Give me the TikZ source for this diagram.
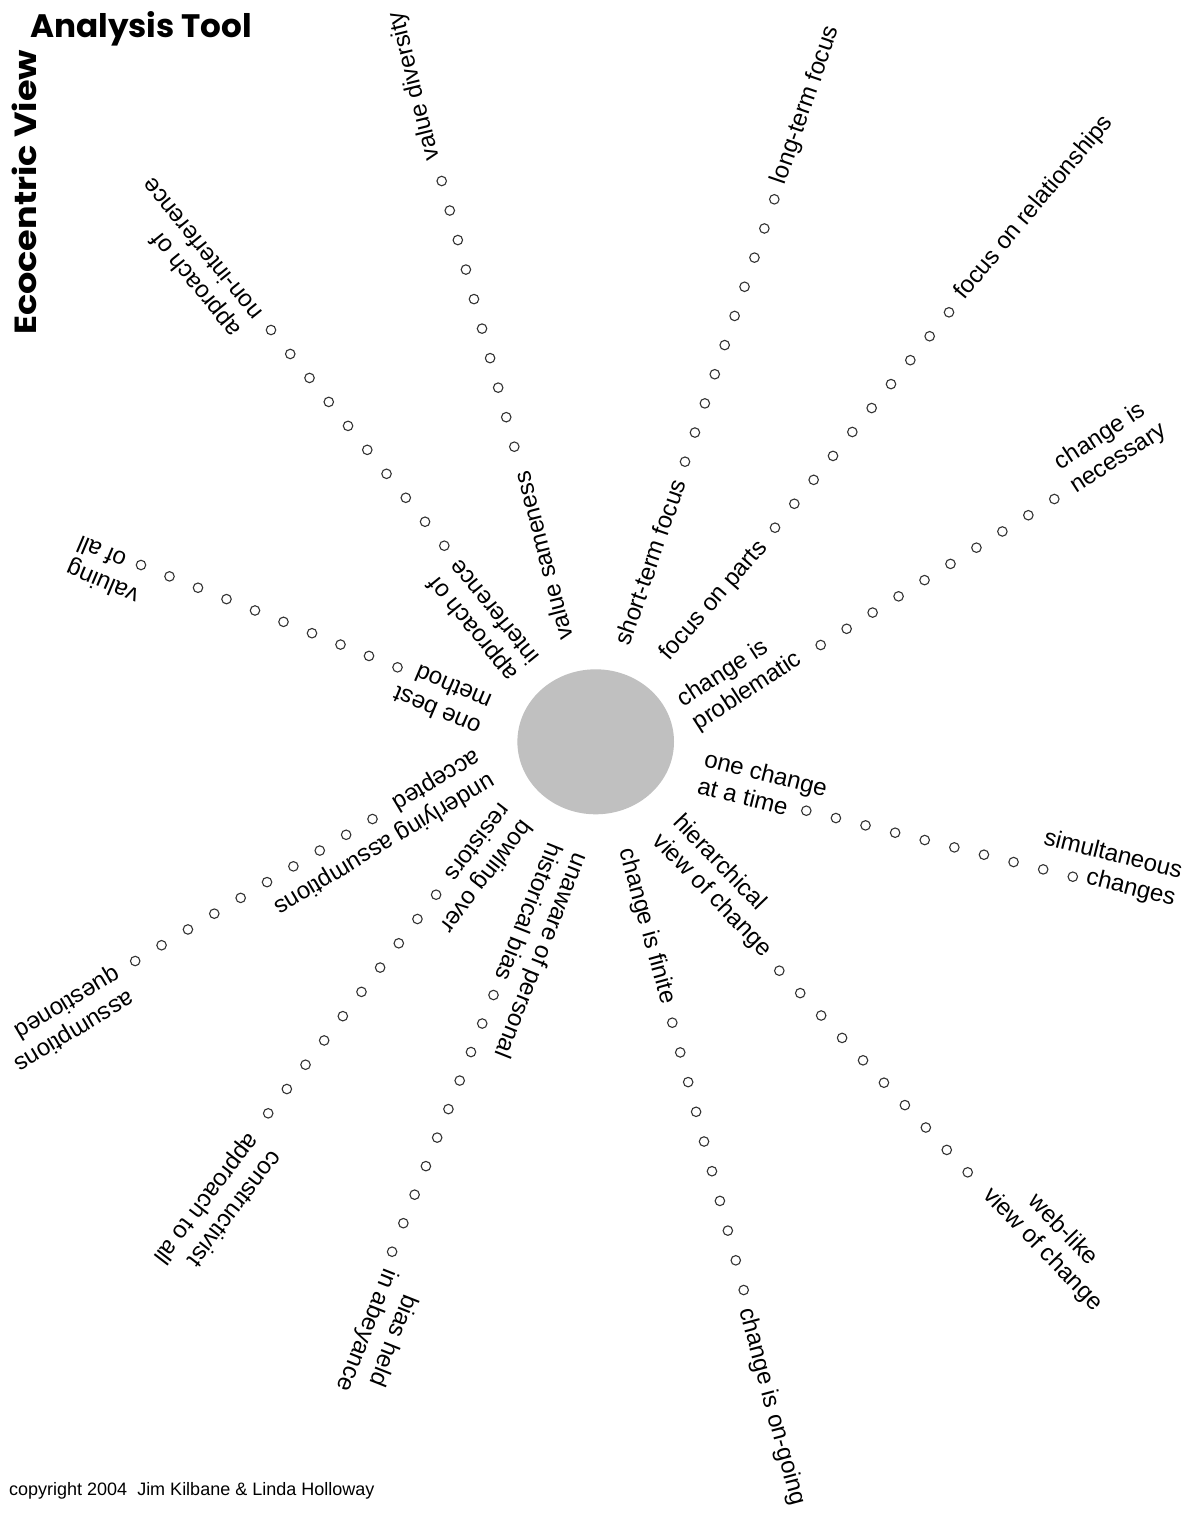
\documentclass[tikz,border=0pt]{standalone}
\usepackage{fontspec}
\setmainfont{Liberation Sans}
\newfontfamily\titlefont{Poppins}
\usetikzlibrary{calc,shapes.geometric}
\definecolor{hubgray}{RGB}{192,192,192}
\begin{document}
\begin{tikzpicture}[x=1pt,y=-1pt,
  dot/.style={circle,draw=black!80,line width=1.1pt,inner sep=0pt,minimum size=9.5pt},
  lbl/.style={font=\fontsize{24}{28}\selectfont,inner sep=0pt},
  hub/.style={ellipse,fill=hubgray,draw=none,inner sep=0pt,minimum width=156.6pt,minimum height=145pt}]
\useasboundingbox (0,0) rectangle (1191,1513);
\fill[white] (0,0) rectangle (1191,1513);
% hub
\node[hub] (hub) at (595.7,741.8) {};
% rays of dots
\foreach \r/\ax/\ay/\bx/\by in {1/514.3/446.7/441.7/181, 2/685/461.7/774.3/199.3, 3/775/527.7/949/312.3, 4/820.7/645/1054.3/499, 5/806.3/810.7/1072.8/876.7, 6/779.3/970.7/967.7/1172.3, 7/672.3/1022.7/743.7/1290, 8/397.5/667.3/141/565, 9/444.3/545.7/271/330, 10/372.5/819/135.2/961, 11/436.1/894.7/268.2/1113.3, 12/493.5/995/392.1/1251.7}
{
  \foreach \i in {0,...,9}
    \node[dot] (r\r-\i) at ($(\ax,\ay)!\i/9!(\bx,\by)$) {};
}
% labels
\node[lbl,rotate=104.5] (r1-in) at (543,556) {value sameness};
\node[lbl,rotate=104] (r1-out) at (415,86) {value diversity};
\node[lbl,rotate=71] (r2-in) at (650,562) {short-term focus};
\node[lbl,rotate=71] (r2-out) at (806,105) {long-term focus};
\node[lbl,rotate=49] (r3-in) at (714,601) {focus on parts};
\node[lbl,rotate=50] (r3-out) at (1034,208) {focus on relationships};
\node[lbl,rotate=33,align=left] (r4-in) at (740,680) {change is\\problematic};
\node[lbl,rotate=33,align=left] (r4-out) at (1111,447) {change is\\necessary};
\node[lbl,rotate=-14,align=left] (r5-in) at (762.6,786.6) {one change\\at a time};
\node[lbl,rotate=-14,align=right] (r5-out) at (1109.5,869) {simultaneous\\changes};
\node[lbl,rotate=-46,align=left] (r6-in) at (722,886) {hierarchical\\view of change};
\node[lbl,rotate=-46,align=center] (r6-out) at (1052.5,1240) {web-like\\view of change};
\node[lbl,rotate=-74.5] (r7-in) at (646.7,926.4) {change is finite};
\node[lbl,rotate=-75] (r7-out) at (771.7,1406.7) {change is on-going};
\node[lbl,rotate=157,align=left] (r8-in) at (442,698.5) {one best\\method};
\node[lbl,rotate=157,align=right] (r8-out) at (107.5,570.6) {valuing\\of all};
\node[lbl,rotate=129,align=left] (r9-in) at (482.6,621.3) {approach of\\interference};
\node[lbl,rotate=129,align=left] (r9-out) at (190.6,258.4) {approach of\\non-interference};
\node[lbl,rotate=211,align=left] (r10-in) at (377,831.7) {underlying assumptions\\accepted};
\node[lbl,rotate=211,align=left] (r10-out) at (66.7,1019) {assumptions\\questioned};
\node[lbl,rotate=232.5,align=left] (r11-in) at (476,869) {bowling over\\resistors};
\node[lbl,rotate=232.5,align=left] (r11-out) at (217,1207) {constructivist\\approach to all};
\node[lbl,rotate=248.4,align=left] (r12-in) at (529.5,951) {unaware of personal\\historical bias};
\node[lbl,rotate=248.4,align=center] (r12-out) at (379.6,1335) {bias held\\in abeyance};
% titles
\node[anchor=base west,inner sep=0pt] (title) at (30,37.7) {\resizebox{222pt}{26pt}{\titlefont\bfseries Analysis Tool}};
\node[rotate=90,anchor=base west,inner sep=0pt] (view) at (36,335) {\resizebox{285pt}{24.5pt}{\titlefont\bfseries Ecocentric View}};
\node[anchor=base west,inner sep=0pt,font=\fontsize{18}{20}\selectfont] (copy) at (9,1495) {copyright 2004\ \ Jim Kilbane \& Linda Holloway};
\end{tikzpicture}
\end{document}
